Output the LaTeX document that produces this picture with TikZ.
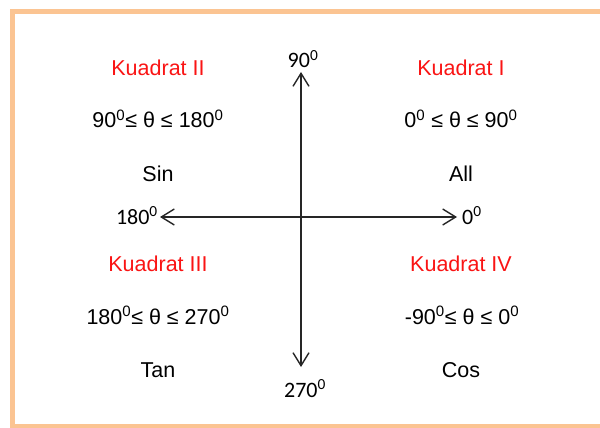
\documentclass[tikz,border=0pt]{standalone}
\usepackage{fontspec}
\setmainfont{Liberation Sans}
\newfontfamily\axisfont{Carlito}
\usetikzlibrary{arrows.meta}
\definecolor{peach}{RGB}{251,196,146}
\definecolor{kred}{RGB}{250,20,20}
\begin{document}
\begin{tikzpicture}[x=1pt,y=-1pt,
  every node/.style={inner sep=0pt},
  qtitle/.style={text=kred,font=\fontsize{21.5}{24}\selectfont,anchor=base},
  qtext/.style={text=black,font=\fontsize{21.5}{24}\selectfont,anchor=base},
  axl/.style={text=black,font=\axisfont\fontsize{22}{24}\selectfont},
  axis/.style={line width=1.4pt,black!85,{Straight Barb[length=13pt,width=16pt,line width=1.4pt]}-{Straight Barb[length=13pt,width=16pt,line width=1.4pt]}}]
\useasboundingbox (0,0) rectangle (600,428);
\fill[white] (0,0) rectangle (600,428);
\draw[peach,line width=4.5pt] (615,11.5) -- (12.5,11.5) -- (12.5,426) -- (615,426);
\coordinate (L) at (160,217);
\coordinate (R) at (457,217);
\coordinate (T) at (301,72);
\coordinate (B) at (301,367);
\draw[axis] (L) -- (R);
\draw[axis] (T) -- (B);
\node[axl,anchor=base east] (l180) at (158,224) {180\textsuperscript{0}};
\node[axl,anchor=base west] (l0) at (462,224) {0\textsuperscript{0}};
\node[axl,anchor=base] (l90) at (303,68) {90\textsuperscript{0}};
\node[axl,anchor=base] (l270) at (305,397) {270\textsuperscript{0}};
% Quadrant II
\node[qtitle] (q2) at (158,75) {Kuadrat II};
\node[qtext] (q2r) at (158,128) {90\textsuperscript{0}≤ θ ≤ 180\textsuperscript{0}};
\node[qtext] (q2f) at (158,181) {Sin};
% Quadrant I
\node[qtitle] (q1) at (461,75) {Kuadrat I};
\node[qtext] (q1r) at (461,128) {0\textsuperscript{0} ≤ θ ≤ 90\textsuperscript{0}};
\node[qtext] (q1f) at (461,181) {All};
% Quadrant III
\node[qtitle] (q3) at (158,271) {Kuadrat III};
\node[qtext] (q3r) at (158,324) {180\textsuperscript{0}≤ θ ≤ 270\textsuperscript{0}};
\node[qtext] (q3f) at (158,377) {Tan};
% Quadrant IV
\node[qtitle] (q4) at (461,271) {Kuadrat IV};
\node[qtext] (q4r) at (462,324) {-90\textsuperscript{0}≤ θ ≤ 0\textsuperscript{0}};
\node[qtext] (q4f) at (461,377) {Cos};
\end{tikzpicture}
\end{document}
